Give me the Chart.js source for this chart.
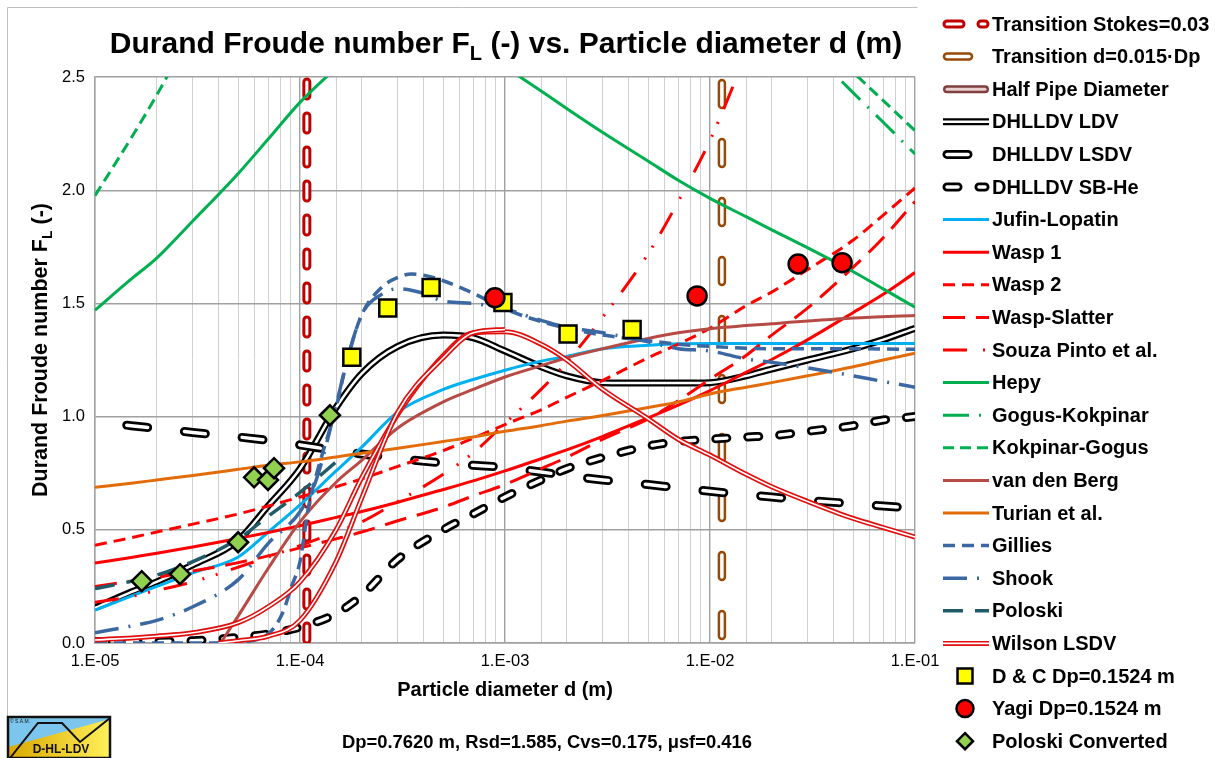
<!DOCTYPE html>
<html>
<head>
<meta charset="utf-8">
<title>Durand Froude number vs. particle diameter</title>
<script src="https://cdn.jsdelivr.net/npm/chart.js@4.4.1/dist/chart.umd.min.js"></script>
<style>
  html, body { margin: 0; padding: 0; background: #fff; }
  #wrap { width: 1215px; height: 758px; }
</style>
</head>
<body>
<div id="wrap"><canvas id="chart" width="1215" height="758"></canvas></div>
<script>
// particle diameters d (m) shared by most curves
const dGrid = [1e-5, 1.5e-5, 2e-5, 3e-5, 5e-5, 7e-5, 1e-4, 1.5e-4, 2e-4, 3e-4, 5e-4, 7e-4,
               1e-3, 1.5e-3, 2e-3, 3e-3, 5e-3, 7e-3, 1e-2, 1.5e-2, 2e-2, 3e-2, 5e-2, 7e-2, 1e-1];

// vertical transition lines (drawn top to bottom)
const stokesD = [1.08e-4, 1.08e-4];
const transD = [0.01143, 0.01143];
const halfPipeD = [0.381, 0.381];
const verticalF = [2.5, 0];

// Durand Froude number FL on dGrid
const ldvF    = [0.155, 0.225, 0.27, 0.345, 0.454, 0.606, 0.77, 1.04, 1.19, 1.31, 1.36, 1.348,
                 1.29, 1.22, 1.18, 1.15, 1.148, 1.148, 1.15, 1.18, 1.21, 1.25, 1.30, 1.34, 1.39];
const lsdvF   = [0.98, 0.96, 0.948, 0.93, 0.91, 0.895, 0.875, 0.85, 0.835, 0.815, 0.795, 0.785,
                 0.775, 0.755, 0.74, 0.72, 0.70, 0.685, 0.67, 0.655, 0.645, 0.63, 0.615, 0.605, 0.595];
const sbheF   = [0.005, 0.005, 0.007, 0.01, 0.025, 0.04, 0.07, 0.13, 0.21, 0.37, 0.50, 0.57,
                 0.645, 0.72, 0.77, 0.82, 0.87, 0.89, 0.90, 0.91, 0.915, 0.935, 0.96, 0.985, 1.0];
const jufinF  = [0.145, 0.207, 0.25, 0.31, 0.38, 0.49, 0.61, 0.76, 0.865, 1.02, 1.12, 1.164,
                 1.205, 1.245, 1.266, 1.30, 1.315, 1.322, 1.323, 1.323, 1.323, 1.323, 1.323, 1.323, 1.323];
const wasp1F  = [0.353, 0.378, 0.396, 0.424, 0.462, 0.488, 0.518, 0.555, 0.581, 0.622, 0.678, 0.716,
                 0.76, 0.814, 0.853, 0.913, 0.995, 1.051, 1.115, 1.195, 1.252, 1.34, 1.46, 1.54, 1.636];
const wasp2F  = [0.432, 0.465, 0.49, 0.525, 0.57, 0.605, 0.645, 0.69, 0.725, 0.78, 0.85, 0.905,
                 0.965, 1.03, 1.085, 1.16, 1.26, 1.32, 1.39, 1.49, 1.55, 1.65, 1.78, 1.89, 2.01];
const waspSlF = [0.25, 0.273, 0.29, 0.318, 0.355, 0.385, 0.42, 0.46, 0.49, 0.54, 0.60, 0.65,
                 0.70, 0.77, 0.82, 0.90, 0.99, 1.07, 1.165, 1.27, 1.36, 1.48, 1.66, 1.79, 1.95];
const souzaF  = [0.18, 0.205, 0.232, 0.27, 0.335, 0.38, 0.43, 0.49, 0.535, 0.625, 0.745, 0.84,
                 0.97, 1.12, 1.24, 1.44, 1.72, 1.95, 2.22, 2.6];
const hepyF   = [1.47, 1.607, 1.70, 1.864, 2.074, 2.226, 2.388, 2.54, null, null, null, null,
                 2.545, 2.438, 2.361, 2.255, 2.128, 2.044, 1.964, 1.883, 1.825, 1.745, 1.64, 1.564, 1.483];
const gogusF  = [null, null, null, null, null, null, null, null, null, null, null, null,
                 null, null, null, null, null, null, null, null, null, 2.63, 2.43, 2.30, 2.16];
const kokF    = [1.976, 2.23, 2.42, 2.71, null, null, null, null, null, null, null, null,
                 null, null, null, null, null, null, null, null, null, 2.71, 2.52, 2.396, 2.263];
const turianF = [0.688, 0.706, 0.72, 0.74, 0.767, 0.785, 0.80, 0.822, 0.838, 0.86, 0.89, 0.91,
                 0.935, 0.96, 0.98, 1.005, 1.04, 1.065, 1.10, 1.13, 1.15, 1.18, 1.22, 1.25, 1.28];

// curves with their own diameters
const vdbD = [4.1e-5, 5e-5, 7e-5, 1e-4, 1.5e-4, 2e-4, 3e-4, 5e-4, 7e-4, 1e-3, 1.5e-3, 2e-3,
              3e-3, 5e-3, 7e-3, 1e-2, 2e-2, 5e-2, 1e-1];
const vdbF = [0, 0.12, 0.33, 0.535, 0.71, 0.807, 0.95, 1.065, 1.12, 1.175, 1.225, 1.26,
              1.30, 1.345, 1.37, 1.388, 1.41, 1.435, 1.447];
const gilD = [1e-5, 3e-5, 5e-5, 7e-5, 8.2e-5, 9.1e-5, 1e-4, 1.1e-4, 1.2e-4, 1.3e-4, 1.5e-4, 1.7e-4,
              2e-4, 2.5e-4, 3e-4, 3.5e-4, 4e-4, 5e-4, 7e-4, 1e-3, 1.5e-3, 2e-3, 3e-3, 5e-3,
              7e-3, 1e-2, 2e-2, 5e-2, 1e-1];
const gilF = [0, 0, 0.005, 0.04, 0.13, 0.25, 0.36, 0.6, 0.74, 0.85, 1.04, 1.25,
              1.45, 1.57, 1.615, 1.63, 1.625, 1.60, 1.545, 1.475, 1.42, 1.39, 1.36, 1.335,
              1.32, 1.31, 1.30, 1.30, 1.297];
const shookD = [1e-5, 1.5e-5, 2e-5, 3e-5, 5e-5, 7e-5, 1e-4, 1.2e-4, 1.5e-4, 1.7e-4, 2e-4, 2.5e-4,
                3e-4, 4e-4, 5e-4, 7e-4, 1e-3, 1.5e-3, 2e-3, 3e-3, 5e-3, 7e-3, 1e-2, 1.5e-2,
                2e-2, 3e-2, 5e-2, 7e-2, 1e-1];
const shookF = [0.045, 0.075, 0.10, 0.16, 0.28, 0.44, 0.58, 0.72, 1.05, 1.25, 1.45, 1.54,
                1.565, 1.545, 1.51, 1.50, 1.475, 1.425, 1.395, 1.37, 1.33, 1.30, 1.29, 1.255,
                1.24, 1.215, 1.18, 1.155, 1.13];
const poloskiD = [1e-5, 2e-5, 3e-5, 5e-5, 7e-5, 1e-4, 1.5e-4];
const poloskiF = [0.24, 0.30, 0.36, 0.46, 0.56, 0.665, 0.80];
const wilsonD = [1e-5, 2e-5, 3e-5, 5e-5, 7e-5, 1e-4, 1.5e-4, 2e-4, 3e-4, 5e-4, 7e-4, 1e-3,
                 1.5e-3, 2e-3, 3e-3, 5e-3, 7e-3, 1e-2, 1.5e-2, 2e-2, 3e-2, 5e-2, 7e-2, 1e-1];
const wilsonF = [0.013, 0.03, 0.045, 0.09, 0.16, 0.27, 0.5, 0.73, 1.01, 1.27, 1.37, 1.375,
                 1.32, 1.25, 1.12, 0.99, 0.90, 0.83, 0.745, 0.69, 0.625, 0.55, 0.51, 0.468];
const wilson2D = [4e-5, 5e-5, 7e-5, 1e-4, 1.5e-4, 2e-4, 3e-4, 5e-4, 7e-4, 1e-3];
const wilson2F = [0, 0.01, 0.03, 0.1, 0.36, 0.64, 1.02, 1.26, 1.37, 1.385];

// measurements
const dcD = [1.79e-4, 2.68e-4, 4.36e-4, 9.77e-4, 2.03e-3, 4.17e-3];
const dcF = [1.262, 1.48, 1.57, 1.504, 1.365, 1.385];
const yagiD = [8.93e-4, 8.65e-3, 2.69e-2, 4.41e-2];
const yagiF = [1.525, 1.533, 1.674, 1.68];
const polConvD = [1.69e-5, 2.6e-5, 4.99e-5, 5.97e-5, 6.98e-5, 7.47e-5, 1.40e-4];
const polConvF = [0.273, 0.304, 0.445, 0.732, 0.72, 0.772, 1.006];

const FONT = "'Liberation Sans', Arial, sans-serif";

// series in drawing order (first one at the bottom), styles kept here
const series = [
  { label: 'Transition Stokes=0.03', x: stokesD, y: verticalF, color: '#c00000', width: 9, dash: [14, 20], offset: -5, cap: 'round', inner: '#ffffff', innerWidth: 3, straight: true },
  { label: 'Transition d=0.015\u00b7Dp', x: transD, y: verticalF, color: '#984807', width: 8.5, dash: [22, 37], offset: -6, cap: 'round', inner: '#ffffff', innerWidth: 3.5, straight: true },
  { label: 'Half Pipe Diameter', x: halfPipeD, y: verticalF, color: '#7f3f3f', width: 8, cap: 'round', inner: '#e8d0d0', innerWidth: 3, straight: true },
  { label: 'DHLLDV LDV', x: dGrid, y: ldvF, color: '#000000', width: 7, inner: '#ffffff', innerWidth: 2.5 },
  { label: 'DHLLDV LSDV', x: dGrid, y: lsdvF, color: '#000000', width: 9, dash: [21, 37], offset: 26, cap: 'round', inner: '#ffffff', innerWidth: 3.5 },
  { label: 'DHLLDV SB-He', x: dGrid, y: sbheF, color: '#000000', width: 9, dash: [11, 21], cap: 'round', inner: '#ffffff', innerWidth: 3.5 },
  { label: 'Jufin-Lopatin', x: dGrid, y: jufinF, color: '#00b0f0', width: 3 },
  { label: 'Wasp 1', x: dGrid, y: wasp1F, color: '#ff0000', width: 3 },
  { label: 'Wasp 2', x: dGrid, y: wasp2F, color: '#ff0000', width: 3, dash: [12, 7] },
  { label: 'Wasp-Slatter', x: dGrid, y: waspSlF, color: '#ff0000', width: 3, dash: [22, 11] },
  { label: 'Souza Pinto et al.', x: dGrid, y: souzaF, color: '#ff0000', width: 3, dash: [24, 16, 2, 12, 2, 14] },
  { label: 'Hepy', x: dGrid, y: hepyF, color: '#00b050', width: 3 },
  { label: 'Gogus-Kokpinar', x: dGrid, y: gogusF, color: '#00b050', width: 3, dash: [26, 10, 2, 10] },
  { label: 'Kokpinar-Gogus', x: dGrid, y: kokF, color: '#00b050', width: 3, dash: [11, 6] },
  { label: 'van den Berg', x: vdbD, y: vdbF, color: '#b64a45', width: 3 },
  { label: 'Turian et al.', x: dGrid, y: turianF, color: '#e36c0a', width: 3 },
  { label: 'Gillies', x: gilD, y: gilF, color: '#3b67a3', width: 3.5, dash: [12, 7] },
  { label: 'Shook', x: shookD, y: shookF, color: '#3b67a3', width: 3.5, dash: [24, 10, 2, 10] },
  { label: 'Poloski', x: poloskiD, y: poloskiF, color: '#215a68', width: 3.5, dash: [20, 12] },
  { label: 'Wilson LSDV', x: wilsonD, y: wilsonF, color: '#e01010', width: 5, inner: '#ffffff', innerWidth: 1.6 },
  { label: null, x: wilson2D, y: wilson2F, color: '#e01010', width: 5, inner: '#ffffff', innerWidth: 1.6 },
  { label: 'D & C Dp=0.1524 m', x: dcD, y: dcF, marker: 'rect', fill: '#ffff00', radius: 12 },
  { label: 'Yagi Dp=0.1524 m', x: yagiD, y: yagiF, marker: 'circle', fill: '#ff0000', radius: 9.5 },
  { label: 'Poloski Converted', x: polConvD, y: polConvF, marker: 'rectRot', fill: '#92d050', radius: 10 }
];

function toPoints(xs, ys) {
  const out = [];
  for (let i = 0; i < ys.length; i++) out.push({ x: xs[i], y: ys[i] });
  return out;
}

const datasets = [];
series.forEach((s, k) => {
  const order = 1000 - k * 4;
  const data = toPoints(s.x, s.y);
  if (s.marker) {
    datasets.push({
      label: s.label, data, order, showLine: false,
      pointStyle: s.marker, pointRadius: s.radius, pointHoverRadius: s.radius,
      backgroundColor: s.fill, borderColor: '#000000', pointBorderWidth: 2.5
    });
    return;
  }
  const common = {
    data, pointRadius: 0, fill: false, spanGaps: false,
    borderDash: s.dash || [], borderDashOffset: s.offset || 0,
    borderCapStyle: s.cap || 'butt', borderJoinStyle: 'round',
    tension: s.straight ? 0 : 0.4,
    cubicInterpolationMode: s.straight ? 'default' : 'monotone'
  };
  datasets.push(Object.assign({ label: s.label, order, borderColor: s.color, borderWidth: s.width }, common));
  if (s.inner) {
    datasets.push(Object.assign({ label: null, order: order - 1, borderColor: s.inner, borderWidth: s.innerWidth }, common));
  }
});

function isDecade(v) {
  const l = Math.log10(v);
  return Math.abs(l - Math.round(l)) < 1e-6;
}

function drawMarker(ctx, s, x, y) {
  ctx.save();
  ctx.fillStyle = s.fill;
  ctx.strokeStyle = '#000';
  ctx.lineWidth = 2.5;
  ctx.beginPath();
  if (s.marker === 'circle') {
    ctx.arc(x, y, s.radius - 1, 0, Math.PI * 2);
  } else if (s.marker === 'rect') {
    const h = s.radius * Math.SQRT1_2 - 1;
    ctx.rect(x - h, y - h, 2 * h, 2 * h);
  } else {
    const r = s.radius - 2;
    ctx.moveTo(x, y - r); ctx.lineTo(x + r, y); ctx.lineTo(x, y + r); ctx.lineTo(x - r, y); ctx.closePath();
  }
  ctx.fill(); ctx.stroke();
  ctx.restore();
}

function drawSample(ctx, s, y) {
  const round = s.cap === 'round';
  const x1 = round ? 947 : 943, x2 = round ? 985 : 989;
  const pass = (color, w) => {
    ctx.save();
    ctx.strokeStyle = color; ctx.lineWidth = w;
    ctx.lineCap = s.cap || 'butt';
    ctx.setLineDash(s.dash || []);
    ctx.beginPath(); ctx.moveTo(x1, y); ctx.lineTo(x2, y); ctx.stroke();
    ctx.restore();
  };
  pass(s.color, s.width);
  if (s.inner) pass(s.inner, s.innerWidth);
}

// text with a subscript part: parts = [[text, isSub], ...]
function drawRich(ctx, parts, x, y, size, align) {
  const big = 'bold ' + size + 'px ' + FONT;
  const small = 'bold ' + Math.round(size * 0.65) + 'px ' + FONT;
  let total = 0;
  parts.forEach(p => { ctx.font = p[1] ? small : big; total += ctx.measureText(p[0]).width; });
  let cx = align === 'center' ? x - total / 2 : x;
  ctx.textAlign = 'left';
  ctx.textBaseline = 'alphabetic';
  parts.forEach(p => {
    ctx.font = p[1] ? small : big;
    ctx.fillText(p[0], cx, p[1] ? y + size * 0.22 : y);
    cx += ctx.measureText(p[0]).width;
  });
}

const decorations = {
  id: 'decorations',
  afterDraw(chart) {
    const ctx = chart.ctx;
    ctx.save();
    // outer frame of the chart block
    ctx.strokeStyle = '#bfbfbf'; ctx.lineWidth = 1;
    ctx.beginPath(); ctx.moveTo(7.5, 717); ctx.lineTo(7.5, 7.5); ctx.lineTo(917.5, 7.5); ctx.stroke();

    ctx.fillStyle = '#000';
    drawRich(ctx, [['Durand Froude number F', false], ['L', true], [' (-) vs. Particle diameter d (m)', false]], 506, 53, 30, 'center');

    ctx.save();
    ctx.translate(47, 350);
    ctx.rotate(-Math.PI / 2);
    drawRich(ctx, [['Durand Froude number F', false], ['L', true], [' (-)', false]], 0, 0, 21.5, 'center');
    ctx.restore();

    ctx.font = 'bold 20px ' + FONT;
    ctx.textAlign = 'center'; ctx.textBaseline = 'middle';
    ctx.fillText('Particle diameter d (m)', 505, 690);
    ctx.font = 'bold 18.4px ' + FONT;
    ctx.fillText('Dp=0.7620 m, Rsd=1.585, Cvs=0.175, \u03bcsf=0.416', 547, 743);

    // legend
    let row = 0;
    series.forEach(s => {
      if (!s.label) return;
      const y = 24 + row * 32.6;
      if (s.marker) drawMarker(ctx, s, 965, y); else drawSample(ctx, s, y);
      ctx.fillStyle = '#000';
      ctx.font = 'bold 20px ' + FONT;
      ctx.textAlign = 'left'; ctx.textBaseline = 'middle';
      ctx.fillText(s.label, 992, y + 1);
      row++;
    });

    // logo
    const lx = 8, ly = 717, lw = 102, lh = 41;
    const g = ctx.createLinearGradient(lx, 0, lx + lw, 0);
    g.addColorStop(0, '#d9a800'); g.addColorStop(1, '#fff05a');
    ctx.fillStyle = g; ctx.fillRect(lx, ly, lw, lh);
    ctx.fillStyle = '#7cc6ee';
    ctx.beginPath(); ctx.moveTo(lx, ly); ctx.lineTo(lx + lw, ly); ctx.lineTo(lx + lw, ly + 2); ctx.lineTo(lx, ly + 30); ctx.closePath(); ctx.fill();
    ctx.strokeStyle = '#111'; ctx.lineWidth = 2;
    ctx.beginPath();
    ctx.moveTo(lx + 2, ly + lh); ctx.lineTo(lx + 30, ly + 6); ctx.lineTo(lx + 54, ly + 6);
    ctx.lineTo(lx + 72, ly + 25); ctx.lineTo(lx + lw, ly + 1); ctx.stroke();
    ctx.lineWidth = 2.5; ctx.strokeRect(lx, ly, lw, lh);
    ctx.fillStyle = '#111';
    ctx.font = 'bold 12px ' + FONT; ctx.textAlign = 'center';
    ctx.fillText('D-HL-LDV', lx + 53, ly + 33);
    ctx.font = '5px ' + FONT; ctx.textAlign = 'left';
    ctx.fillText('\u00a9 S.A.M.', lx + 2, ly + 5);
    ctx.restore();
  }
};

new Chart(document.getElementById('chart'), {
  type: 'line',
  data: { datasets },
  options: {
    responsive: false,
    animation: false,
    events: [],
    layout: { padding: { left: 0, right: 300, top: 77, bottom: 0 } },
    plugins: { legend: { display: false }, title: { display: false }, tooltip: { enabled: false } },
    scales: {
      x: {
        type: 'logarithmic', min: 1e-5, max: 1e-1,
        afterFit: s => { s.height = 115; },
        grid: {
          drawTicks: false,
          color: c => (c.tick && isDecade(c.tick.value)) ? '#a0a0a0' : '#d0d0d0',
          lineWidth: c => (c.tick && isDecade(c.tick.value)) ? 1.4 : 1
        },
        border: { color: '#a0a0a0', width: 1.4 },
        ticks: {
          autoSkip: false, maxRotation: 0, padding: 9, color: '#000',
          font: { family: FONT, size: 16.5 },
          callback: v => {
            if (!isDecade(v)) return '';
            const e = Math.round(Math.log10(v));
            return '1.E' + (e < 0 ? '-' : '+') + String(Math.abs(e)).padStart(2, '0');
          }
        }
      },
      y: {
        type: 'linear', min: 0, max: 2.5,
        afterFit: s => { s.width = 95; },
        grid: { drawTicks: false, color: '#a0a0a0', lineWidth: 1.4 },
        border: { color: '#a0a0a0', width: 1.4 },
        ticks: {
          stepSize: 0.5, padding: 10, color: '#000',
          font: { family: FONT, size: 16.5 },
          callback: v => Number(v).toFixed(1)
        }
      }
    }
  },
  plugins: [decorations]
});
</script>
</body>
</html>
